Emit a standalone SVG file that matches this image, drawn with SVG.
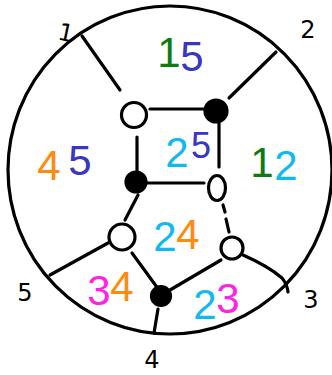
<svg xmlns="http://www.w3.org/2000/svg" width="332" height="375" viewBox="0 0 332 375">
<style>
.e{fill:none;stroke:#000;stroke-width:3.2;stroke-linecap:round;stroke-linejoin:round}
.o{fill:#fff;stroke:#000;stroke-width:3.2}
.f{fill:#000;stroke:#000;stroke-width:3.2}
.r{font-family:"DejaVu Sans",sans-serif;font-size:24px;fill:#000;text-anchor:middle}
.b{font-family:"Liberation Sans",sans-serif;font-size:42px;text-anchor:middle}
.g{fill:#0d7a12}.u{fill:#3a36c4}.a{fill:#ff8a10}.c{fill:#12b8f2}.m{fill:#ff22e6}
</style>
<rect width="332" height="375" fill="#fff"/>
<g id="connectors">
<ellipse class="e" cx="170" cy="170" rx="162" ry="164"/>
<line class="e" x1="82" y1="36" x2="120" y2="90"/>
<line class="e" x1="276" y1="52" x2="229" y2="98"/>
<line class="e" x1="150" y1="109" x2="204" y2="109"/>
<line class="e" x1="219" y1="123" x2="219" y2="167"/>
<line class="e" x1="137" y1="137" x2="137" y2="172"/>
<line class="e" x1="147" y1="183" x2="204" y2="183"/>
<line class="e" x1="138" y1="195" x2="125" y2="220"/>
<line class="e" x1="223" y1="205" x2="225" y2="212"/>
<line class="e" x1="226" y1="219" x2="229" y2="232"/>
<line class="e" x1="108" y1="243" x2="50" y2="275"/>
<line class="e" x1="132" y1="253" x2="159" y2="290"/>
<line class="e" x1="170" y1="290" x2="221" y2="260"/>
<line class="e" x1="158" y1="309" x2="154" y2="333"/>
<path class="e" d="M243 255 Q268 266 282 278 Q287 284 288 292"/>
</g>
<g id="n1"><circle class="o" cx="134" cy="115" r="12.5"/></g>
<g id="n2"><circle class="f" cx="216" cy="111" r="11"/></g>
<g id="n3"><circle class="f" cx="136" cy="182" r="10"/></g>
<g id="n4"><ellipse class="o" cx="217" cy="188" rx="8.5" ry="12.5"/></g>
<g id="n5"><circle class="o" cx="122" cy="237" r="13"/></g>
<g id="n6"><circle class="o" cx="232" cy="248" r="11"/></g>
<g id="n7"><circle class="f" cx="161" cy="296" r="9.5"/></g>
<g id="labels">
<text class="r" x="66" y="41" transform="rotate(12 66 32)">1</text>
<text class="r" x="308" y="38">2</text>
<text class="r" x="311" y="308">3</text>
<text class="r" x="152" y="368">4</text>
<text class="r" x="25" y="301">5</text>
<text class="b g" x="169" y="67">1</text><text class="b u" x="192" y="71">5</text>
<text class="b a" x="49" y="180">4</text><text class="b u" x="80" y="175">5</text>
<text class="b c" x="177" y="167">2</text><text class="b u" x="201" y="158" style="font-size:36px">5</text>
<text class="b g" x="262" y="177">1</text><text class="b c" x="286" y="180">2</text>
<text class="b c" x="165" y="251">2</text><text class="b a" x="188" y="249">4</text>
<text class="b m" x="99" y="305">3</text><text class="b a" x="122" y="301">4</text>
<text class="b c" x="205" y="319">2</text><text class="b m" x="228" y="313">3</text>
</g>
</svg>
